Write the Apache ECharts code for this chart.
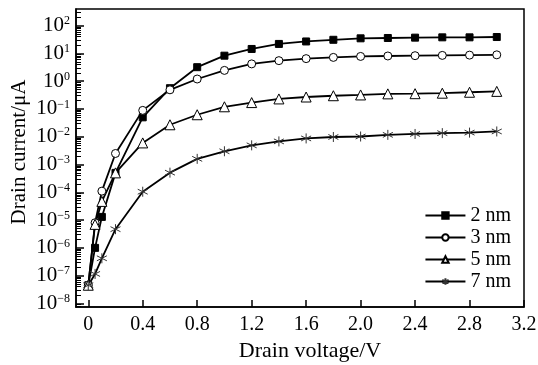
<!DOCTYPE html>
<html>
<head>
<meta charset="utf-8">
<script src="https://cdn.jsdelivr.net/npm/echarts@6/dist/echarts.min.js"></script>
<style>
  html, body { margin: 0; padding: 0; background: #fff; }
  #chart { width: 538px; height: 365px; }
</style>
</head>
<body>
<div id="chart"></div>
<script>
// drain voltage (V)
const voltage = [0, 0.05, 0.1, 0.2, 0.4, 0.6, 0.8, 1.0, 1.2, 1.4, 1.6, 1.8, 2.0, 2.2, 2.4, 2.6, 2.8, 3.0];

// drain current (uA)
const current2nm = [4.5e-8, 1.0e-6, 1.3e-5, 5.0e-4, 0.05, 0.56, 3.2, 8.3, 14.5, 22, 27, 31, 35, 36, 37, 38, 38, 39];
const current3nm = [4.5e-8, 8.0e-6, 1.1e-4, 2.5e-3, 0.089, 0.49, 1.2, 2.45, 4.2, 5.5, 6.5, 7.2, 7.8, 8.1, 8.3, 8.5, 8.7, 8.9];
const current5nm = [4.5e-8, 7.0e-6, 4.7e-5, 5.0e-4, 6.0e-3, 0.027, 0.062, 0.12, 0.17, 0.23, 0.27, 0.30, 0.32, 0.35, 0.355, 0.37, 0.40, 0.43];
const current7nm = [4.5e-8, 1.15e-7, 4.2e-7, 4.7e-6, 1.05e-4, 5.1e-4, 1.6e-3, 3.0e-3, 4.9e-3, 6.8e-3, 8.7e-3, 9.8e-3, 0.0102, 0.0117, 0.0126, 0.0135, 0.0141, 0.0155];

const seriesNames = ['2 nm', '3 nm', '5 nm', '7 nm'];

// axis ticks
const xTicks = [0, 0.4, 0.8, 1.2, 1.6, 2.0, 2.4, 2.8, 3.2];
const yDecades = [-8, -7, -6, -5, -4, -3, -2, -1, 0, 1, 2];

const FONT = 'Liberation Serif';
const Y_MIN = -8.13;
const Y_MAX = 2.6;

// minor log ticks (2..9 x 10^n) that fall inside the axis range
const yMinor = [];
for (let n = -9; n <= 2; n++) {
  for (let k = 2; k <= 9; k++) {
    const v = n + Math.log10(k);
    if (v > Y_MIN && v < Y_MAX) yMinor.push(v);
  }
}

const asterisk = 'path://M5,0 L5,10 M0.7,2.5 L9.3,7.5 M0.7,7.5 L9.3,2.5';

function toPoints(values) {
  return voltage.map((v, i) => [v, Math.log10(values[i])]);
}

function makeSeries(name, values, symbol, size, fill, stroke) {
  return {
    name: name,
    type: 'line',
    data: toPoints(values),
    symbol: symbol,
    symbolSize: size,
    showSymbol: true,
    lineStyle: { color: '#000', width: 1.8 },
    itemStyle: { color: fill, borderColor: stroke, borderWidth: 1 },
  };
}

const chart = echarts.init(document.getElementById('chart'));

chart.setOption({
  animation: false,
  textStyle: { fontFamily: FONT },
  grid: {
    left: 76,
    right: 14,
    top: 9,
    bottom: 58,
    outerBoundsMode: 'none',
    show: true,
    borderColor: '#000',
    borderWidth: 1.5,
  },
  legend: {
    orient: 'vertical',
    right: 22,
    top: 200,
    itemWidth: 40,
    itemHeight: 8,
    itemGap: 1,
    textStyle: { fontFamily: FONT, fontSize: 20, color: '#000', lineHeight: 21 },
    data: seriesNames,
  },
  xAxis: {
    type: 'value',
    min: -0.09,
    max: 3.2,
    name: 'Drain voltage/V',
    nameLocation: 'middle',
    nameGap: 24,
    nameTextStyle: { fontFamily: FONT, fontSize: 22, color: '#000', padding: [0, 0, 0, 20] },
    axisLine: { show: true, onZero: false, lineStyle: { color: '#000', width: 1.5 } },
    axisTick: { show: true, inside: true, length: 7, customValues: xTicks, lineStyle: { color: '#000', width: 1.5 } },
    axisLabel: {
      customValues: xTicks,
      margin: 8,
      color: '#000',
      fontFamily: FONT,
      fontSize: 20,
      formatter: (v) => (v === 0 ? '0' : v.toFixed(1)),
    },
    splitLine: { show: false },
  },
  yAxis: [
    {
      type: 'value',
      min: Y_MIN,
      max: Y_MAX,
      position: 'left',
      name: 'Drain current/\u03bcA',
      nameLocation: 'middle',
      nameGap: 46,
      nameMoveOverlap: false,
      nameTextStyle: { fontFamily: FONT, fontSize: 21, color: '#000', padding: [0, 0, 0, 12] },
      axisLine: { show: true, onZero: false, lineStyle: { color: '#000', width: 1.5 } },
      axisTick: { show: true, inside: true, length: 8, customValues: yDecades, lineStyle: { color: '#000', width: 1.5 } },
      axisLabel: {
        customValues: yDecades,
        margin: 6,
        color: '#000',
        formatter: (v) => '{b|10}{s|' + (v < 0 ? '\u2212' + Math.abs(v) : String(v)) + '}',
        rich: {
          b: { fontFamily: FONT, fontSize: 21, color: '#000', verticalAlign: 'bottom' },
          s: { fontFamily: FONT, fontSize: 12, color: '#000', verticalAlign: 'bottom', padding: [0, 0, 9, 0] },
        },
      },
      splitLine: { show: false },
    },
    {
      type: 'value',
      min: Y_MIN,
      max: Y_MAX,
      position: 'left',
      axisLine: { show: false, onZero: false },
      axisTick: { show: true, inside: true, length: 5, customValues: yMinor, lineStyle: { color: '#000', width: 1 } },
      axisLabel: { show: false },
      splitLine: { show: false },
    },
  ],
  series: [
    makeSeries(seriesNames[0], current2nm, 'rect', 7, '#000', '#000'),
    makeSeries(seriesNames[1], current3nm, 'circle', 8, '#fff', '#000'),
    makeSeries(seriesNames[2], current5nm, 'triangle', 10, '#fff', '#000'),
    makeSeries(seriesNames[3], current7nm, asterisk, 10, 'none', '#333'),
  ],
});
</script>
</body>
</html>
